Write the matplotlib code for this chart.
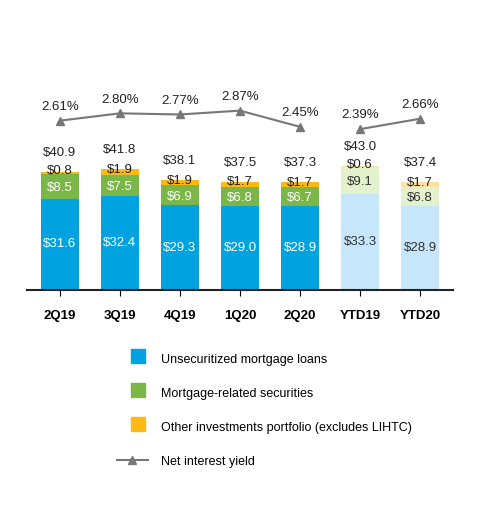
import numpy as np
import matplotlib
matplotlib.use("Agg")
import matplotlib.pyplot as plt
from matplotlib.patches import Patch
from matplotlib.lines import Line2D

plt.rcParams['font.family'] = ['Liberation Sans Narrow', 'Liberation Sans', 'DejaVu Sans']

categories = ['2Q19', '3Q19', '4Q19', '1Q20', '2Q20', 'YTD19', 'YTD20']
loans = [31.6, 32.4, 29.3, 29.0, 28.9, 33.3, 28.9]
securities = [8.5, 7.5, 6.9, 6.8, 6.7, 9.1, 6.8]
other = [0.8, 1.9, 1.9, 1.7, 1.7, 0.6, 1.7]
totals = ['$40.9', '$41.8', '$38.1', '$37.5', '$37.3', '$43.0', '$37.4']
yields = [2.61, 2.80, 2.77, 2.87, 2.45, 2.39, 2.66]

c_loan = ['#00a3e0'] * 5 + ['#c5e6fb'] * 2
c_sec = ['#7ab648'] * 5 + ['#e3f1cc'] * 2
c_oth = ['#fdb913'] * 5 + ['#fde0a4'] * 2

fig = plt.figure(figsize=(4.8, 5.08), dpi=100)
ax = fig.add_axes([0.056, 0.429, 0.888, 0.414])
x = np.arange(len(categories))
w = 0.62
ax.bar(x, loans, w, color=c_loan)
ax.bar(x, securities, w, bottom=loans, color=c_sec)
b2 = np.array(loans) + np.array(securities)
ax.bar(x, other, w, bottom=b2, color=c_oth)
ax.set_xlim(-0.55, len(categories) - 0.45)
ax.set_ylim(0, 72.7)

for i in range(len(categories)):
    dark = i >= 5
    ax.text(x[i], loans[i] / 2, f'${loans[i]:.1f}', ha='center', va='center',
            fontsize=9.5, color='#333333' if dark else 'white')
    ax.text(x[i], loans[i] + securities[i] / 2 - 0.5, f'${securities[i]:.1f}', ha='center', va='center',
            fontsize=9.5, color='#333333' if dark else 'white')
    ax.text(x[i], b2[i] + other[i] / 2 + 0.6, f'${other[i]:.1f}', ha='center', va='center',
            fontsize=9.5, color='#222222')
    ax.text(x[i], b2[i] + other[i] + 4.5, totals[i], ha='center', va='bottom',
            fontsize=9.5, color='#222222')

for s in ['top', 'right', 'left']:
    ax.spines[s].set_visible(False)
ax.spines['bottom'].set_linewidth(1.5)
ax.spines['bottom'].set_color('#222222')
ax.set_yticks([])
ax.set_xticks(x)
ax.set_xticklabels(categories, fontweight='bold', fontsize=9.5)
ax.tick_params(axis='x', length=4, pad=10)

ax2 = ax.twinx()
ax2.set_ylim(-1.78, 3.67)
ax2.axis('off')
ax2.plot(x[:5], yields[:5], color='#777777', marker='^', markersize=6, lw=1.5)
ax2.plot(x[5:], yields[5:], color='#777777', marker='^', markersize=6, lw=1.5)
for i in range(len(categories)):
    ax2.text(x[i], yields[i] + 0.2, f'{yields[i]:.2f}%', ha='center', va='bottom',
             fontsize=9.5, color='#222222')

handles = [Patch(color='#00a3e0'), Patch(color='#7ab648'), Patch(color='#fdb913'),
           Line2D([], [], color='#777777', marker='^', markersize=6, lw=1.5)]
labels = ['Unsecuritized mortgage loans', 'Mortgage-related securities',
          'Other investments portfolio (excludes LIHTC)', 'Net interest yield']
leg = fig.legend(handles, labels, loc='upper left', bbox_to_anchor=(0.22, 0.325),
                 frameon=False, fontsize=9, labelspacing=1.75, handlelength=2.5,
                 handletextpad=1.0)
for p in leg.get_patches():
    p.set_width(10)
    p.set_height(10)
    p.set_x(p.get_x() + 10)

fig.savefig('out.png', dpi=100)
